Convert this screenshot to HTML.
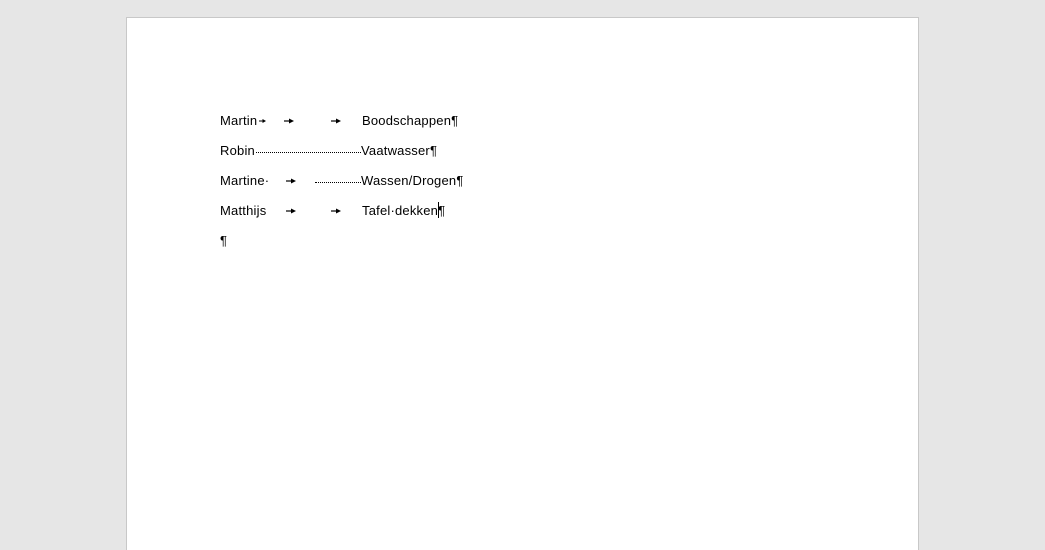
<!DOCTYPE html>
<html style="width:1045px;height:550px;overflow:hidden"><head><style>
body{margin:0;width:1045px;height:550px;background:#e6e6e6;position:relative;overflow:hidden;font-family:"Liberation Sans",sans-serif;font-size:13px;color:#000}
.page{position:absolute;left:126px;top:17px;width:791px;height:533px;background:#fff;border:1px solid #c8c8c8;border-bottom:none}
.t{position:absolute;white-space:nowrap;line-height:16px;letter-spacing:0.2px}
.d{position:absolute;height:0;border-top:1px dotted #000}
.a{position:absolute;width:10px;height:6px}
</style></head><body>
<div class="page"></div>
<svg width="0" height="0" style="position:absolute"><defs><g id="ar"><line x1="0" y1="3" x2="6" y2="3" stroke="#000" stroke-width="1.2"/><polygon points="5,0.5 10,3 5,5.5" fill="#000"/></g></defs></svg>
<div class="t" style="left:220px;top:113px">Martin</div>
<svg class="a" style="left:259px;top:118px;width:7px"><line x1="0" y1="3" x2="4" y2="3" stroke="#000" stroke-width="1"/><polygon points="3.5,1 7,3 3.5,5" fill="#000"/></svg>
<svg class="a" style="left:284px;top:118px"><use href="#ar"/></svg>
<svg class="a" style="left:331px;top:118px"><use href="#ar"/></svg>
<div class="t" style="left:362px;top:113px">Boodschappen¶</div>

<div class="t" style="left:220px;top:143px">Robin</div>
<div class="d" style="left:256px;top:152px;width:105px"></div>
<div class="t" style="left:361px;top:143px">Vaatwasser¶</div>

<div class="t" style="left:220px;top:173px">Martine·</div>
<svg class="a" style="left:286px;top:178px"><use href="#ar"/></svg>
<div class="d" style="left:315px;top:182px;width:46px"></div>
<div class="t" style="left:361px;top:173px">Wassen/Drogen¶</div>

<div class="t" style="left:220px;top:203px">Matthijs</div>
<svg class="a" style="left:286px;top:208px"><use href="#ar"/></svg>
<svg class="a" style="left:331px;top:208px"><use href="#ar"/></svg>
<div class="t" style="left:362px;top:203px">Tafel·dekken¶</div>
<div style="position:absolute;left:438px;top:202px;width:1px;height:16px;background:#000"></div>

<div class="t" style="left:220px;top:233px">¶</div>
</body></html>
